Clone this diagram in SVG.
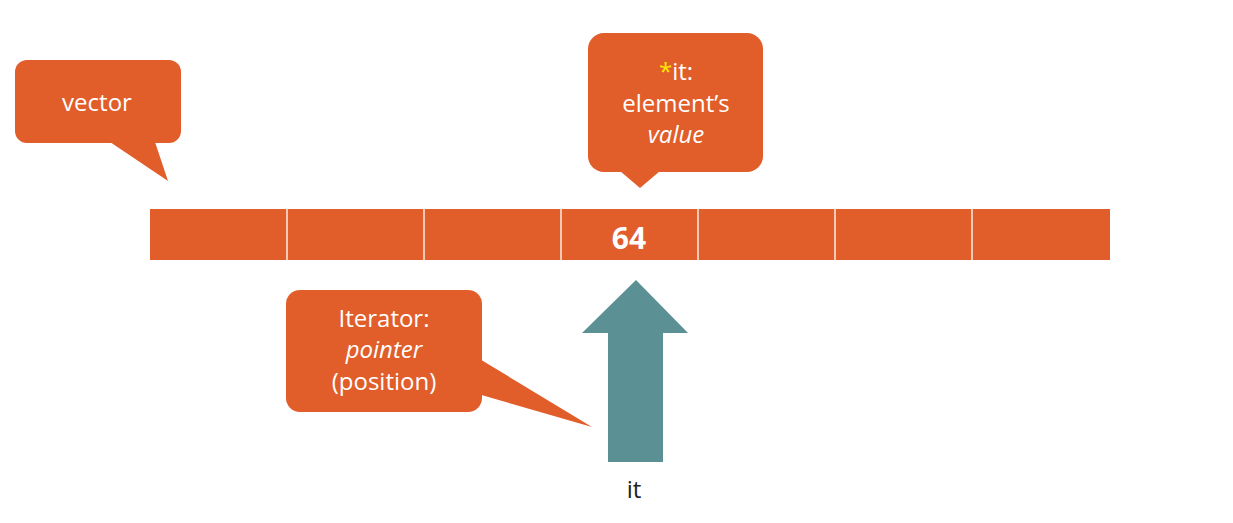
<svg xmlns="http://www.w3.org/2000/svg" width="1233" height="523" viewBox="0 0 1233 523">
<style>
.o{fill:#E15D29}
.t{font-family:"Open Sans","DejaVu Sans",sans-serif;font-size:24px;fill:#ffffff;text-anchor:middle}
.i{font-style:italic}
.div{stroke:#F3C9B5;stroke-width:2}
</style>
<rect width="1233" height="523" fill="#ffffff"/>
<g id="vector-array">
<rect class="o" x="150" y="209" width="960" height="51"/>
<line class="div" x1="287" y1="209" x2="287" y2="260"/>
<line class="div" x1="424" y1="209" x2="424" y2="260"/>
<line class="div" x1="561" y1="209" x2="561" y2="260"/>
<line class="div" x1="698" y1="209" x2="698" y2="260"/>
<line class="div" x1="835" y1="209" x2="835" y2="260"/>
<line class="div" x1="972" y1="209" x2="972" y2="260"/>
<text x="629" y="249" style="font-family:'Open Sans','DejaVu Sans',sans-serif;font-size:30px;font-weight:bold;fill:#ffffff;text-anchor:middle">64</text>
</g>
<g id="callout-vector">
<rect class="o" x="15" y="60" width="166" height="83" rx="12"/>
<polygon class="o" points="110,142 155,142 168,181"/>
<text class="t" x="97" y="111">vector</text>
</g>
<g id="callout-value">
<rect class="o" x="588" y="33" width="175" height="139" rx="16"/>
<polygon class="o" points="620,171 660,171 640,188"/>
<text class="t" x="676" y="80"><tspan fill="#FFE600">*</tspan>it:</text>
<text class="t" x="676" y="112">element’s</text>
<text class="t i" x="676" y="143">value</text>
</g>
<g id="callout-iterator">
<rect class="o" x="286" y="290" width="196" height="122" rx="14"/>
<polygon class="o" points="478,358 592,427 478,394"/>
<text class="t" x="384" y="327">Iterator:</text>
<text class="t i" x="384" y="358">pointer</text>
<text class="t" x="384" y="390">(position)</text>
</g>
<g id="connectors">
<polygon fill="#5B9094" points="636,280 688,333 663,333 663,462 608,462 608,333 582,333"/>
</g>
<g id="label-it">
<text x="634" y="498" style="font-family:'Open Sans','DejaVu Sans',sans-serif;font-size:24px;fill:#222222;text-anchor:middle">it</text>
</g>
</svg>
